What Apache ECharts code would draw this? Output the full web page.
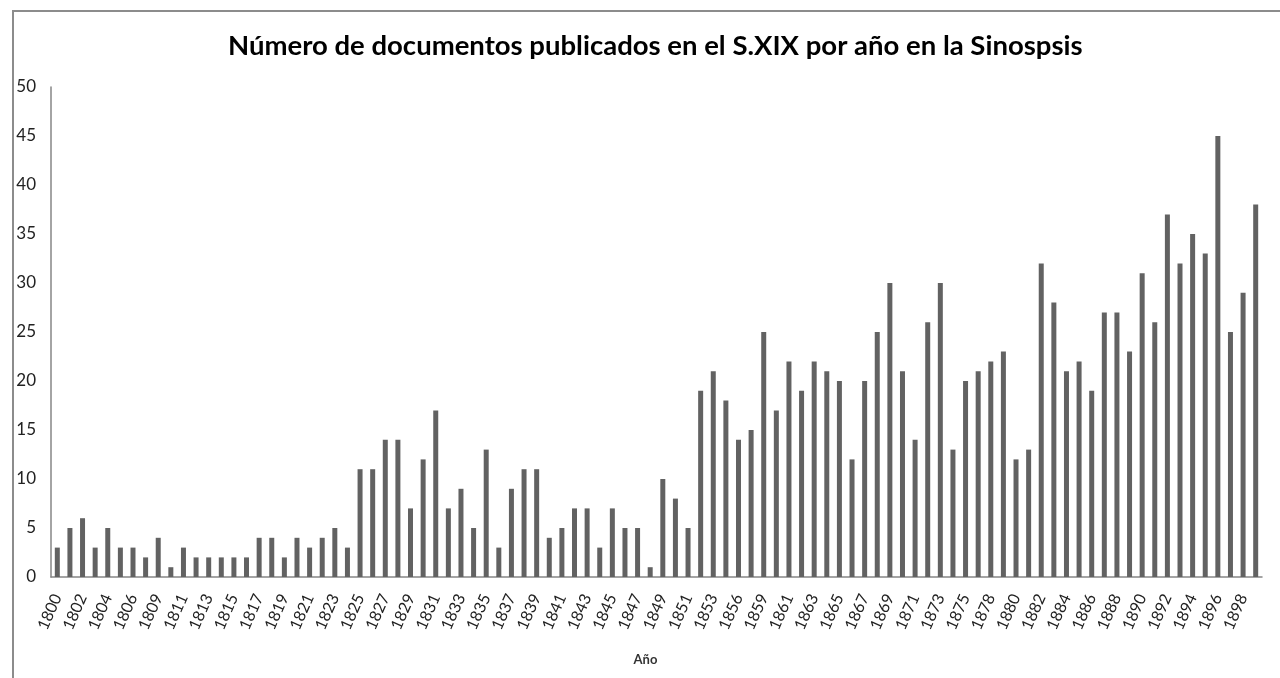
<!DOCTYPE html>
<html>
<head>
<meta charset="utf-8">
<script src="https://cdn.jsdelivr.net/npm/echarts@6/dist/echarts.min.js"></script>
<style>
  html, body { margin: 0; padding: 0; background: #fff; overflow: hidden; }
  #frame { position: absolute; left: 12px; top: 10px; width: 1300px; height: 700px;
           border-left: 2px solid #8c8c8c; border-top: 2px solid #8c8c8c; }
  #bars { position: absolute; left: 0; top: 0; width: 1280px; height: 678px; }
</style>
</head>
<body>
<div id="frame"></div>
<div id="bars"></div>
<script>
// años (la etiqueta de cada año intermedio queda oculta)
const years = [
  '1800','1801','1802','1803','1804','1805','1806','1807','1809','1810',
  '1811','1812','1813','1814','1815','1816','1817','1818','1819','1820',
  '1821','1822','1823','1824','1825','1826','1827','1828','1829','1830',
  '1831','1832','1833','1834','1835','1836','1837','1838','1839','1840',
  '1841','1842','1843','1844','1845','1846','1847','1848','1849','1850',
  '1851','1852','1853','1854','1856','1857','1859','1860','1861','1862',
  '1863','1864','1865','1866','1867','1868','1869','1870','1871','1872',
  '1873','1874','1875','1876','1878','1879','1880','1881','1882','1883',
  '1884','1885','1886','1887','1888','1889','1890','1891','1892','1893',
  '1894','1895','1896','1897','1898','1899'
]
// documentos publicados por año
const docs = [
  3, 5, 6, 3, 5, 3, 3, 2, 4, 1,
  3, 2, 2, 2, 2, 2, 4, 4, 2, 4,
  3, 4, 5, 3, 11, 11, 14, 14, 7, 12,
  17, 7, 9, 5, 13, 3, 9, 11, 11, 4,
  5, 7, 7, 3, 7, 5, 5, 1, 10, 8,
  5, 19, 21, 18, 14, 15, 25, 17, 22, 19,
  22, 21, 20, 12, 20, 25, 30, 21, 14, 26,
  30, 13, 20, 21, 22, 23, 12, 13, 32, 28,
  21, 22, 19, 27, 27, 23, 31, 26, 37, 32,
  35, 33, 45, 25, 29, 38
]
const yTicks = { min: 0, max: 50, step: 5 }

const chart = echarts.init(document.getElementById('bars'))
const option = {
  animation: false,
  title: {
    text: 'Número de documentos publicados en el S.XIX por año en la Sinospsis',
    left: 223,
    top: 27,
    textStyle: { fontFamily: 'Lato', fontWeight: 'bold', fontSize: 27.5, color: '#000' }
  },
  grid: { left: 51, right: 18, top: 87, bottom: 101 },
  xAxis: {
    type: 'category',
    data: years,
    name: 'Año',
    nameLocation: 'middle',
    nameGap: 76,
    nameTextStyle: { fontFamily: 'Lato', fontWeight: 'bold', fontSize: 13, color: '#333', padding: [0, 22, 0, 0] },
    axisLine: { lineStyle: { color: '#868686', width: 1.5 } },
    axisTick: { show: false },
    axisLabel: {
      interval: 1,
      rotate: 66,
      margin: 18,
      fontFamily: 'Lato',
      fontSize: 16,
      color: '#222'
    }
  },
  yAxis: {
    type: 'value',
    min: yTicks.min,
    max: yTicks.max,
    interval: yTicks.step,
    axisLine: { show: true, lineStyle: { color: '#868686', width: 1.5 } },
    axisTick: { show: false },
    splitLine: { show: false },
    axisLabel: { fontFamily: 'Lato', fontSize: 17, color: '#222', margin: 15 }
  },
  series: [{
    type: 'bar',
    data: docs,
    barWidth: 5,
    itemStyle: { color: '#626262' }
  }]
}
chart.setOption(option)
</script>
</body>
</html>
